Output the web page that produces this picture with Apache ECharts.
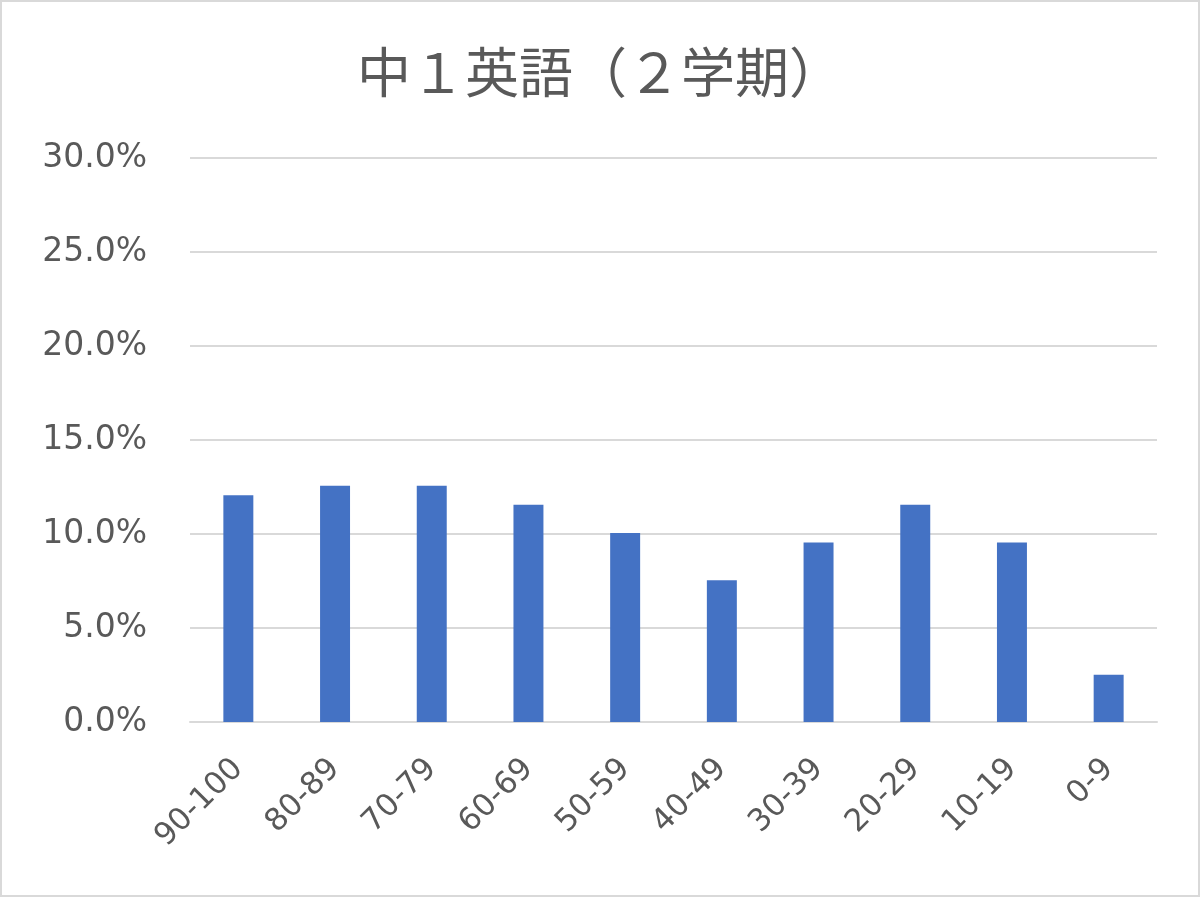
<!DOCTYPE html>
<html>
<head>
<meta charset="utf-8">
<style>
  html, body { margin: 0; padding: 0; background: #fff; }
  #main { width: 1200px; height: 897px; box-sizing: border-box; border: 2px solid #d9d9d9; }
</style>
<script src="https://cdn.jsdelivr.net/npm/echarts@6/dist/echarts.min.js"></script>
</head>
<body>
<div id="main"></div>
<script>
var categories = ['90-100', '80-89', '70-79', '60-69', '50-59', '40-49', '30-39', '20-29', '10-19', '0-9'];
var shares = [0.1206, 0.1256, 0.1256, 0.1156, 0.1005, 0.0754, 0.0955, 0.1156, 0.0955, 0.0251];

var chartDom = document.getElementById('main');
var myChart = echarts.init(chartDom, null, { renderer: 'canvas' });
var titleFont = '"Noto Sans CJK JP", sans-serif';
var labelFont = '"DejaVu Sans", sans-serif';

var option = {
    animation: false,
    title: {
        text: '中１英語（２学期）',
        left: 'center',
        top: 38,
        textStyle: {
            fontFamily: titleFont,
            fontSize: 54,
            fontWeight: 'normal',
            color: '#595959'
        }
    },
    grid: {
        left: 188,
        right: 41,
        top: 156,
        bottom: 173
    },
    xAxis: {
        type: 'category',
        data: categories,
        axisLine: { lineStyle: { color: '#d9d9d9', width: 2 } },
        axisTick: { show: false },
        axisLabel: {
            rotate: 45,
            margin: 42,
            interval: 0,
            color: '#595959',
            fontFamily: labelFont,
            fontSize: 31
        }
    },
    yAxis: {
        type: 'value',
        min: 0,
        max: 0.3,
        interval: 0.05,
        axisLine: { show: false },
        axisTick: { show: false },
        splitLine: { lineStyle: { color: '#d9d9d9', width: 2 } },
        axisLabel: {
            margin: 43,
            color: '#595959',
            fontFamily: labelFont,
            fontSize: 33,
            formatter: function (v) { return (v * 100).toFixed(1) + '%'; }
        }
    },
    series: [
        {
            type: 'bar',
            data: shares,
            barWidth: '31%',
            itemStyle: { color: '#4472C4' }
        }
    ]
};
option && myChart.setOption(option);
</script>
</body>
</html>
